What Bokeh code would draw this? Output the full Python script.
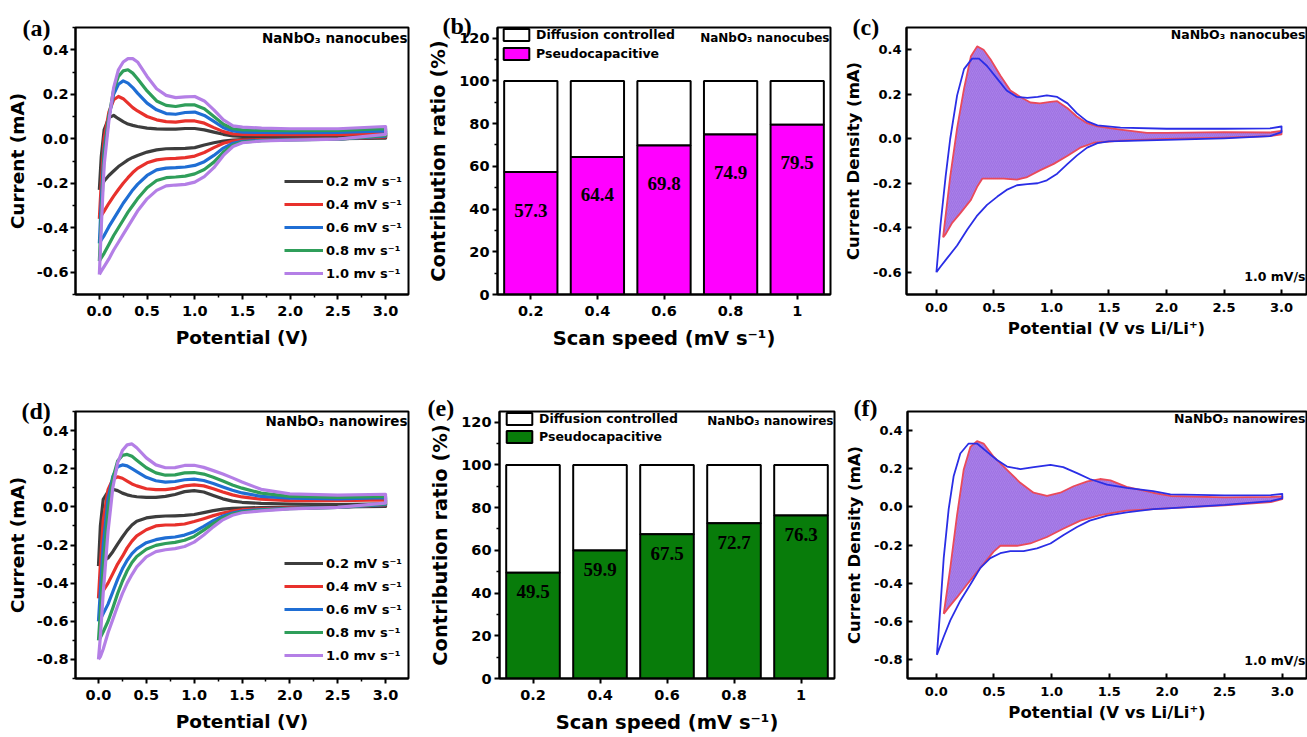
from bokeh.plotting import figure
from bokeh.layouts import row, column
from bokeh.models import Range1d, FactorRange, FixedTicker, Label, PrintfTickFormatter
from bokeh.core.properties import value
from bokeh.embed import file_html
from bokeh.resources import INLINE

SANS = "DejaVu Sans"
SERIF = "Liberation Serif"

# ---------------- data ----------------
V_GRID = [0.0, 0.02, 0.05, 0.1, 0.15, 0.2, 0.25, 0.3, 0.35, 0.4, 0.5, 0.6, 0.7, 0.8, 0.9,
          1.0, 1.1, 1.2, 1.3, 1.4, 1.5, 1.7, 2.0, 2.5, 3.0]
RATE_LABELS = ["0.2 mV s⁻¹", "0.4 mV s⁻¹", "0.6 mV s⁻¹", "0.8 mv s⁻¹", "1.0 mv s⁻¹"]
RATE_COLORS = ["#3d3d3d", "#e8312c", "#1f6ed4", "#2f9e5a", "#b47fe6"]

# (a) nanocubes: anodic (upper) and cathodic (lower) currents on V_GRID
CUBES_UP_02 = [-0.23, -0.08, 0.04, 0.095, 0.105, 0.09, 0.077, 0.066, 0.06, 0.055, 0.048, 0.044, 0.043, 0.043, 0.046, 0.046, 0.04, 0.03, 0.02, 0.013, 0.01, 0.008, 0.008, 0.01, 0.015]
CUBES_UP_04 = [-0.36, -0.2, 0.0, 0.12, 0.175, 0.19, 0.18, 0.16, 0.14, 0.125, 0.1, 0.085, 0.077, 0.075, 0.08, 0.08, 0.07, 0.05, 0.032, 0.022, 0.02, 0.018, 0.018, 0.018, 0.025]
CUBES_UP_06 = [-0.47, -0.28, -0.05, 0.10, 0.20, 0.245, 0.26, 0.25, 0.23, 0.205, 0.16, 0.13, 0.113, 0.11, 0.118, 0.12, 0.105, 0.078, 0.05, 0.035, 0.03, 0.028, 0.027, 0.028, 0.035]
CUBES_UP_08 = [-0.55, -0.35, -0.08, 0.10, 0.22, 0.28, 0.305, 0.31, 0.295, 0.27, 0.215, 0.17, 0.15, 0.145, 0.152, 0.152, 0.135, 0.1, 0.065, 0.045, 0.04, 0.038, 0.036, 0.037, 0.045]
CUBES_UP_10 = [-0.61, -0.40, -0.12, 0.08, 0.23, 0.31, 0.345, 0.36, 0.36, 0.345, 0.28, 0.225, 0.195, 0.185, 0.188, 0.19, 0.17, 0.13, 0.085, 0.058, 0.052, 0.048, 0.045, 0.045, 0.055]
CUBES_DN_02 = [-0.23, -0.21, -0.19, -0.165, -0.145, -0.125, -0.11, -0.095, -0.084, -0.075, -0.06, -0.05, -0.045, -0.044, -0.043, -0.04, -0.028, -0.018, -0.01, -0.006, -0.004, -0.003, -0.002, 0.0, 0.003]
CUBES_DN_04 = [-0.36, -0.345, -0.325, -0.29, -0.258, -0.228, -0.2, -0.175, -0.152, -0.133, -0.108, -0.095, -0.09, -0.088, -0.085, -0.078, -0.062, -0.04, -0.02, -0.01, -0.006, -0.004, -0.003, -0.001, 0.008]
CUBES_DN_06 = [-0.47, -0.455, -0.435, -0.395, -0.36, -0.325, -0.29, -0.26, -0.23, -0.205, -0.165, -0.14, -0.132, -0.13, -0.127, -0.12, -0.103, -0.075, -0.042, -0.02, -0.012, -0.007, -0.004, -0.002, 0.012]
CUBES_DN_08 = [-0.55, -0.535, -0.515, -0.475, -0.435, -0.40, -0.365, -0.33, -0.30, -0.27, -0.22, -0.188, -0.175, -0.172, -0.168, -0.158, -0.138, -0.105, -0.06, -0.028, -0.015, -0.009, -0.005, -0.002, 0.015]
CUBES_DN_10 = [-0.61, -0.595, -0.575, -0.54, -0.50, -0.465, -0.43, -0.395, -0.36, -0.325, -0.27, -0.232, -0.212, -0.208, -0.205, -0.195, -0.17, -0.13, -0.075, -0.035, -0.018, -0.01, -0.006, -0.002, 0.02]

# (d) nanowires
WIRES_UP_02 = [-0.31, -0.10, 0.04, 0.08, 0.092, 0.085, 0.072, 0.063, 0.057, 0.053, 0.05, 0.05, 0.055, 0.065, 0.08, 0.085, 0.078, 0.06, 0.042, 0.03, 0.024, 0.018, 0.014, 0.012, 0.016]
WIRES_UP_04 = [-0.48, -0.30, -0.07, 0.09, 0.145, 0.157, 0.15, 0.135, 0.12, 0.11, 0.095, 0.09, 0.09, 0.097, 0.11, 0.115, 0.11, 0.095, 0.078, 0.063, 0.052, 0.04, 0.033, 0.032, 0.036]
WIRES_UP_06 = [-0.60, -0.44, -0.20, 0.04, 0.16, 0.21, 0.22, 0.215, 0.20, 0.185, 0.155, 0.137, 0.13, 0.133, 0.142, 0.145, 0.138, 0.122, 0.104, 0.087, 0.073, 0.055, 0.045, 0.042, 0.048]
WIRES_UP_08 = [-0.70, -0.55, -0.30, -0.02, 0.15, 0.24, 0.27, 0.275, 0.265, 0.245, 0.205, 0.178, 0.166, 0.168, 0.178, 0.18, 0.172, 0.155, 0.135, 0.115, 0.098, 0.072, 0.055, 0.05, 0.055]
WIRES_UP_10 = [-0.80, -0.68, -0.45, -0.13, 0.10, 0.23, 0.295, 0.325, 0.33, 0.31, 0.257, 0.22, 0.205, 0.206, 0.217, 0.218, 0.207, 0.19, 0.172, 0.152, 0.13, 0.092, 0.068, 0.062, 0.066]
WIRES_DN_02 = [-0.31, -0.30, -0.285, -0.268, -0.235, -0.195, -0.158, -0.123, -0.095, -0.075, -0.058, -0.051, -0.048, -0.047, -0.045, -0.04, -0.03, -0.02, -0.012, -0.008, -0.006, -0.004, -0.002, 0.0, 0.002]
WIRES_DN_04 = [-0.48, -0.465, -0.44, -0.40, -0.35, -0.30, -0.26, -0.215, -0.18, -0.152, -0.12, -0.10, -0.095, -0.094, -0.09, -0.077, -0.062, -0.046, -0.032, -0.022, -0.015, -0.01, -0.005, -0.002, 0.01]
WIRES_DN_06 = [-0.60, -0.59, -0.56, -0.51, -0.445, -0.38, -0.325, -0.28, -0.245, -0.22, -0.188, -0.172, -0.163, -0.158, -0.148, -0.13, -0.102, -0.072, -0.048, -0.032, -0.022, -0.014, -0.008, -0.003, 0.012]
WIRES_DN_08 = [-0.70, -0.685, -0.655, -0.60, -0.53, -0.455, -0.39, -0.335, -0.292, -0.26, -0.222, -0.202, -0.192, -0.186, -0.175, -0.155, -0.122, -0.088, -0.058, -0.038, -0.027, -0.017, -0.009, -0.003, 0.015]
WIRES_DN_10 = [-0.80, -0.785, -0.745, -0.66, -0.59, -0.52, -0.455, -0.40, -0.355, -0.315, -0.262, -0.235, -0.225, -0.219, -0.208, -0.185, -0.148, -0.105, -0.068, -0.044, -0.031, -0.021, -0.011, -0.003, 0.02]

# (b)/(e) contribution ratios
SPEEDS = ["0.2", "0.4", "0.6", "0.8", "1"]
TOTAL_PCT = [100, 100, 100, 100, 100]
PSEUDO_CUBES = [57.3, 64.4, 69.8, 74.9, 79.5]
PSEUDO_WIRES = [49.5, 59.9, 67.5, 72.7, 76.3]

# (c) nanocubes at 1.0 mV/s: total CV loop and capacitive loop
C_TOTAL_V = [0.0, 0.035, 0.08, 0.12, 0.18, 0.24, 0.31, 0.37, 0.44, 0.53, 0.61, 0.7, 0.79, 0.88, 0.96, 1.05, 1.14, 1.22, 1.31, 1.4, 1.6, 2.0, 2.5, 2.9, 3.0,
             3.0, 2.9, 2.5, 2.0, 1.5, 1.4, 1.31, 1.22, 1.14, 1.05, 0.96, 0.88, 0.79, 0.7, 0.61, 0.53, 0.44, 0.35, 0.27, 0.18, 0.09, 0.035, 0.0]
C_TOTAL_I = [-0.60, -0.39, -0.17, 0.0, 0.195, 0.313, 0.36, 0.36, 0.327, 0.269, 0.217, 0.188, 0.184, 0.188, 0.195, 0.188, 0.159, 0.115, 0.078, 0.06, 0.05, 0.045, 0.045, 0.047, 0.055,
             0.03, 0.012, 0.002, -0.005, -0.012, -0.02, -0.04, -0.076, -0.113, -0.157, -0.187, -0.2, -0.204, -0.209, -0.23, -0.26, -0.297, -0.348, -0.407, -0.48, -0.539, -0.575, -0.60]
C_CAP_V = [0.058, 0.12, 0.18, 0.24, 0.3, 0.354, 0.41, 0.47, 0.557, 0.643, 0.73, 0.817, 0.9, 0.99, 1.05, 1.14, 1.22, 1.31, 1.4, 1.6, 1.83, 2.0, 2.5, 2.9, 3.0,
           3.0, 2.9, 2.5, 2.0, 1.6, 1.37, 1.25, 1.14, 1.02, 0.9, 0.79, 0.7, 0.585, 0.5, 0.4, 0.354, 0.3, 0.21, 0.137, 0.078, 0.058]
C_CAP_I = [-0.443, -0.17, 0.048, 0.225, 0.371, 0.415, 0.40, 0.357, 0.283, 0.217, 0.188, 0.163, 0.159, 0.166, 0.169, 0.137, 0.10, 0.07, 0.056, 0.041, 0.026, 0.026, 0.03, 0.028, 0.035,
           0.02, 0.012, 0.005, -0.001, -0.008, -0.018, -0.04, -0.076, -0.113, -0.142, -0.172, -0.184, -0.179, -0.179, -0.179, -0.216, -0.275, -0.333, -0.378, -0.43, -0.443]

# (f) nanowires at 1.0 mV/s
F_TOTAL_V = [0.005, 0.035, 0.064, 0.107, 0.15, 0.208, 0.28, 0.353, 0.44, 0.526, 0.613, 0.73, 0.845, 0.99, 1.1, 1.22, 1.33, 1.48, 1.65, 1.88, 2.03, 2.5, 2.9, 3.0,
             3.0, 2.9, 2.5, 2.0, 1.88, 1.65, 1.48, 1.33, 1.22, 1.1, 0.99, 0.873, 0.757, 0.642, 0.555, 0.468, 0.382, 0.295, 0.208, 0.121, 0.064, 0.005]
F_TOTAL_I = [-0.776, -0.527, -0.269, -0.012, 0.16, 0.28, 0.332, 0.332, 0.288, 0.246, 0.211, 0.198, 0.208, 0.22, 0.208, 0.177, 0.146, 0.117, 0.1, 0.082, 0.065, 0.06, 0.062, 0.068,
             0.045, 0.03, 0.01, -0.008, -0.012, -0.029, -0.046, -0.072, -0.106, -0.149, -0.192, -0.218, -0.232, -0.232, -0.243, -0.269, -0.32, -0.407, -0.492, -0.595, -0.681, -0.776]
F_CAP_V = [0.064, 0.121, 0.179, 0.237, 0.295, 0.353, 0.41, 0.497, 0.613, 0.728, 0.843, 0.96, 1.075, 1.19, 1.31, 1.42, 1.51, 1.65, 1.88, 2.03, 2.5, 2.9, 3.0,
           3.0, 2.9, 2.5, 2.0, 1.65, 1.42, 1.25, 1.1, 0.96, 0.815, 0.7, 0.555, 0.497, 0.382, 0.266, 0.179, 0.107, 0.064]
F_CAP_I = [-0.561, -0.32, -0.046, 0.194, 0.314, 0.345, 0.332, 0.263, 0.194, 0.126, 0.074, 0.057, 0.074, 0.108, 0.134, 0.146, 0.139, 0.105, 0.074, 0.057, 0.05, 0.052, 0.055,
           0.04, 0.025, 0.008, -0.008, -0.02, -0.043, -0.072, -0.115, -0.158, -0.192, -0.204, -0.204, -0.235, -0.32, -0.407, -0.475, -0.527, -0.561]

X_TICKS = [0.0, 0.5, 1.0, 1.5, 2.0, 2.5, 3.0]
X_MINOR = [0.25, 0.75, 1.25, 1.75, 2.25, 2.75]
Y_TICKS_A = [-0.6, -0.4, -0.2, 0.0, 0.2, 0.4]
Y_TICKS_D = [-0.8, -0.6, -0.4, -0.2, 0.0, 0.2, 0.4]
Y_MINOR = [-0.9, -0.7, -0.5, -0.3, -0.1, 0.1, 0.3, 0.5]
PCT_TICKS = [0, 20, 40, 60, 80, 100, 120]
PCT_MINOR = [10, 30, 50, 70, 90, 110]


# ---------------- helpers ----------------
def base_fig(w, h, bl, br, bt, bb, xr, yr, tag, tag_dx, tag_dy):
    p = figure(width=w, height=h, x_range=xr, y_range=yr, output_backend="svg",
               toolbar_location=None, min_border_left=bl, min_border_right=br,
               min_border_top=bt, min_border_bottom=bb)
    p.grid.visible = False
    p.outline_line_color = "black"
    p.outline_line_width = 2
    p.outline_line_alpha = 1
    p.background_fill_color = "white"
    p.border_fill_color = "white"
    # panel tag, e.g. "(a)", sitting left of the frame's top corner
    p.title.text = tag
    p.title.align = "left"
    p.title.offset = tag_dx
    p.title.standoff = tag_dy
    p.title.vertical_align = "bottom"
    p.title.text_font = SERIF
    p.title.text_font_style = "bold"
    p.title.text_font_size = "24px"
    p.title.text_color = "black"
    return p


def style_axes(p, tick_fs, label_fs, inside=False):
    for ax in (p.xaxis[0], p.yaxis[0]):
        ax.axis_line_width = 2
        ax.axis_line_color = "black"
        ax.major_tick_line_width = 2
        ax.major_tick_line_color = "black"
        ax.minor_tick_line_width = 1.5
        ax.minor_tick_line_color = "black"
        if inside:
            ax.major_tick_in = 5
            ax.major_tick_out = 0
            ax.minor_tick_in = 0
            ax.minor_tick_out = 0
        else:
            ax.major_tick_in = 0
            ax.major_tick_out = 5
            ax.minor_tick_in = 0
            ax.minor_tick_out = 3
        ax.major_label_text_font = SANS
        ax.major_label_text_font_style = "bold"
        ax.major_label_text_font_size = tick_fs
        ax.major_label_text_color = "black"
        ax.axis_label_text_font = SANS
        ax.axis_label_text_font_style = "bold"
        ax.axis_label_text_font_size = label_fs
        ax.axis_label_text_color = "black"


def add_note(p, text, x, y, fs, align="right"):
    p.add_layout(Label(x=x, y=y, x_units="screen", y_units="screen", text=text,
                       text_font=SANS, text_font_style="bold", text_font_size=fs,
                       text_align=align, text_baseline="middle", text_color="black"))


def cv_panel(w, h, bl, br, bt, bb, xr, yr, yticks, ups, dns, tag, tag_dx, tag_dy, fh, fw, sample, legend_y):
    p = base_fig(w, h, bl, br, bt, bb, xr, yr, tag, tag_dx, tag_dy)
    for up, dn, lab, col in zip(ups, dns, RATE_LABELS, RATE_COLORS):
        xs = V_GRID + V_GRID[::-1]
        ys = up + dn[::-1]
        p.line(xs, ys, line_color=col, line_width=3.2, legend_label=lab, line_join="round")
    p.xaxis.ticker = FixedTicker(ticks=X_TICKS, minor_ticks=X_MINOR)
    p.yaxis.ticker = FixedTicker(ticks=yticks, minor_ticks=Y_MINOR)
    p.xaxis.formatter = PrintfTickFormatter(format="%.1f")
    p.yaxis.formatter = PrintfTickFormatter(format="%.1f")
    p.xaxis.axis_label = "Potential (V)"
    p.yaxis.axis_label = "Current (mA)"
    style_axes(p, "14.5px", "18.5px")
    p.xaxis.major_label_standoff = 6
    p.yaxis.major_label_standoff = 2
    p.xaxis.axis_label_standoff = 8
    p.yaxis.axis_label_standoff = 6
    lg = p.legend[0]
    lg.location = (209, legend_y)
    lg.glyph_width = 39
    lg.glyph_height = 22
    lg.label_height = 22
    lg.spacing = 1
    lg.padding = 0
    lg.margin = 0
    lg.label_standoff = 3
    lg.label_text_font = SANS
    lg.label_text_font_style = "bold"
    lg.label_text_font_size = "13px"
    lg.label_text_color = "black"
    lg.border_line_color = None
    lg.background_fill_alpha = 0
    add_note(p, sample, fw - 1, fh - 12, "13.5px")
    return p


def bar_panel(w, h, bl, br, bt, bb, pseudo, color, tag, tag_dx, tag_dy, fh, fw, sample, off, lx, ly, lsp):
    p = base_fig(w, h, bl, br, bt, bb, FactorRange(factors=SPEEDS), Range1d(0, 125), tag, tag_dx, tag_dy)
    p.vbar(x=SPEEDS, bottom=pseudo, top=TOTAL_PCT, width=0.8, fill_color="white",
           line_color="black", line_width=2, legend_label="Diffusion controlled")
    p.vbar(x=SPEEDS, bottom=0, top=pseudo, width=0.8, fill_color=color,
           line_color="black", line_width=2, legend_label="Pseudocapacitive")
    p.text(x=SPEEDS, y=pseudo, text=[str(v) for v in pseudo], y_offset=off,
           text_font=value(SERIF), text_font_style="bold", text_font_size="19px",
           text_align="center", text_baseline="middle", text_color="black")
    p.yaxis.ticker = FixedTicker(ticks=PCT_TICKS, minor_ticks=PCT_MINOR)
    p.xaxis.axis_label = "Scan speed (mV s⁻¹)"
    p.yaxis.axis_label = "Contribution ratio (%)"
    style_axes(p, "14.5px", "19.5px")
    p.xaxis.major_label_standoff = 6
    p.yaxis.major_label_standoff = 3
    p.xaxis.axis_label_standoff = 8
    p.yaxis.axis_label_standoff = 6
    lg = p.legend[0]
    lg.location = (lx, ly)
    lg.margin = 0
    lg.padding = 0
    lg.spacing = lsp
    lg.glyph_width = 32
    lg.glyph_height = 15
    lg.label_height = 15
    lg.label_standoff = 4
    lg.label_text_font = SANS
    lg.label_text_font_style = "bold"
    lg.label_text_font_size = "12.5px"
    lg.label_text_color = "black"
    lg.border_line_color = None
    lg.background_fill_alpha = 0
    add_note(p, sample, fw - 1, fh - 12, "12px")
    return p


def cap_panel(w, h, bl, br, bt, bb, xr, yr, yticks, tv, ti, cv, ci, tag, tag_dx, tag_dy, fh, fw, sample):
    p = base_fig(w, h, bl, br, bt, bb, xr, yr, tag, tag_dx, tag_dy)
    p.patch(cv, ci, fill_color="#a87ee8", fill_alpha=1.0, line_color=None,
            hatch_pattern="/", hatch_color="#8a5ad4", hatch_alpha=0.45, hatch_scale=4,
            hatch_weight=0.7)
    p.line(cv, ci, line_color="#ea4a5a", line_width=1.8, line_join="round")
    p.line(tv, ti, line_color="#2a2ee6", line_width=1.8, line_join="round")
    p.xaxis.ticker = FixedTicker(ticks=X_TICKS)
    p.yaxis.ticker = FixedTicker(ticks=yticks)
    p.xaxis.formatter = PrintfTickFormatter(format="%.1f")
    p.yaxis.formatter = PrintfTickFormatter(format="%.1f")
    p.xaxis.axis_label = "Potential (V vs Li/Li⁺)"
    p.yaxis.axis_label = "Current Density (mA)"
    style_axes(p, "13px", "16.5px", inside=True)
    p.xaxis.major_label_standoff = 8
    p.yaxis.major_label_standoff = 5
    p.xaxis.axis_label_standoff = 4
    p.yaxis.axis_label_standoff = 7
    add_note(p, sample, fw - 1, fh - 12, "12.5px")
    add_note(p, "1.0 mV/s", fw - 1, 18, "12.5px")
    return p


pa = cv_panel(420, 370, 75, 12, 25, 76, Range1d(-0.25, 3.24), Range1d(-0.7, 0.5), Y_TICKS_A,
              [CUBES_UP_02, CUBES_UP_04, CUBES_UP_06, CUBES_UP_08, CUBES_UP_10],
              [CUBES_DN_02, CUBES_DN_04, CUBES_DN_06, CUBES_DN_08, CUBES_DN_10],
              "(a)", -53, -26, 269, 333, "NaNbO₃ nanocubes", 10)
pb = bar_panel(420, 370, 77, 10, 25, 76, PSEUDO_CUBES, "#ff00ff", "(b)", -55, -22, 269, 333,
               "NaNbO₃ nanocubes", 38, 3, 269 - 2 - 34, 4)
pc = cap_panel(467, 370, 66, 1, 27, 71, Range1d(-0.26, 3.217), Range1d(-0.7, 0.5), Y_TICKS_A,
               C_TOTAL_V, C_TOTAL_I, C_CAP_V, C_CAP_I, "(c)", -54, -24, 272, 400, "NaNbO₃ nanocubes")
pd = cv_panel(420, 367, 75, 12, 38, 59, Range1d(-0.24, 3.24), Range1d(-0.9, 0.5), Y_TICKS_D,
              [WIRES_UP_02, WIRES_UP_04, WIRES_UP_06, WIRES_UP_08, WIRES_UP_10],
              [WIRES_DN_02, WIRES_DN_04, WIRES_DN_06, WIRES_DN_08, WIRES_DN_10],
              "(d)", -54, -24, 270, 333, "NaNbO₃ nanowires", 12)
pe = bar_panel(420, 367, 79, 6, 38, 59, PSEUDO_WIRES, "#087c0a", "(e)", -72, -18, 270, 335,
               "NaNbO₃ nanowires", 19, 4, 270 - 3 - 33, 3)
pf = cap_panel(467, 367, 67, 1, 41, 54, Range1d(-0.25, 3.21), Range1d(-0.9, 0.5), Y_TICKS_D,
               F_TOTAL_V, F_TOTAL_I, F_CAP_V, F_CAP_I, "(f)", -54, -18, 272, 399, "NaNbO₃ nanowires")

layout = column(row(pa, pb, pc, spacing=0), row(pd, pe, pf, spacing=0), spacing=0)
open("out.html", "w").write(file_html(layout, INLINE))
